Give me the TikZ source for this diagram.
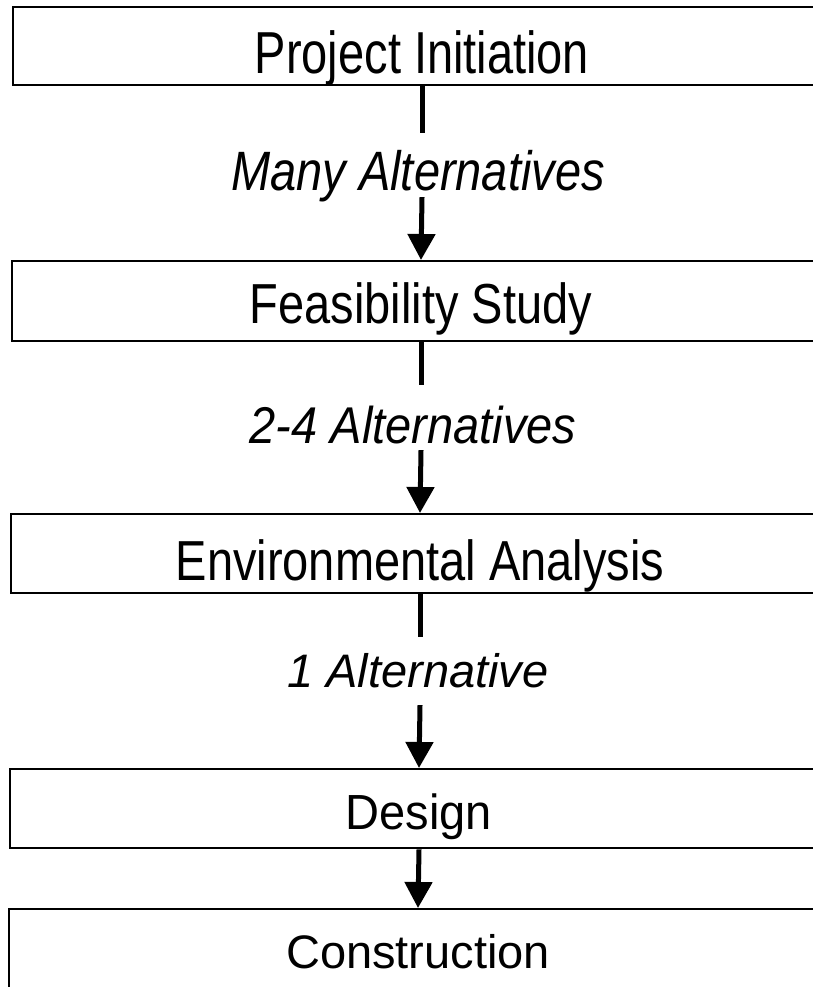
\documentclass[tikz,border=0pt]{standalone}
\usepackage{fontspec}
\setmainfont{Liberation Sans}
\usepackage{graphicx}
\usetikzlibrary{arrows.meta}
\begin{document}
\begin{tikzpicture}[x=1pt,y=-1pt,
  stage/.style={draw=black, line width=2.4pt, rectangle, minimum width=818pt,
    inner sep=0pt, anchor=north, font=\fontsize{47}{56}\selectfont},
  alt/.style={inner sep=0pt, anchor=base, font=\fontsize{47}{56}\selectfont\itshape},
  link/.style={line width=5pt},
  flow/.style={line width=5pt, -{Triangle[width=27pt,length=26pt]}}]
\useasboundingbox (0,0) rectangle (813,987);
\clip (0,0) rectangle (813,987);
% stages
\node[stage, minimum height=78pt, text height=66pt, text depth=12pt] (b1) at (422,6)
  {\scalebox{1}[1.26]{Project Initiation}};
\node[stage, minimum height=80pt, text height=62pt, text depth=18pt] (b2) at (421,260)
  {\scalebox{1}[1.2]{Feasibility Study}};
\node[stage, minimum height=79pt, text height=66pt, text depth=13pt] (b3) at (420,513)
  {\scalebox{1}[1.2]{Environmental Analysis}};
\node[stage, minimum height=79pt, text height=60pt, text depth=19pt] (b4) at (419,768)
  {\scalebox{1}[1.05]{Design}};
\node[stage, minimum height=90pt, text height=59pt, text depth=31pt] (b5) at (418,908)
  {Construction};
% alternatives labels
\node[alt, text height=57pt, text depth=7pt] (l1) at (418,190)
  {\scalebox{1}[1.18]{Many Alternatives}};
\node[alt, text height=58pt, text depth=7pt] (l2) at (413,443)
  {\scalebox{1}[1.1]{2-4 Alternatives}};
\node[alt, text height=50pt, text depth=18pt] (l3) at (418,687)
  {\scalebox{1}[1.0]{1 Alternative}};
% connectors
\draw[link] (b1.south) -- (b1.south |- l1.north);
\draw[flow] (b1.south |- l1.south) -- (b2.north);
\draw[link] (b2.south) -- (b2.south |- l2.north);
\draw[flow] (b2.south |- l2.south) -- (b3.north);
\draw[link] (b3.south) -- (b3.south |- l3.north);
\draw[flow] (b3.south |- l3.south) -- (b4.north);
\draw[flow] (b4.south) -- (b5.north);
\end{tikzpicture}
\end{document}
